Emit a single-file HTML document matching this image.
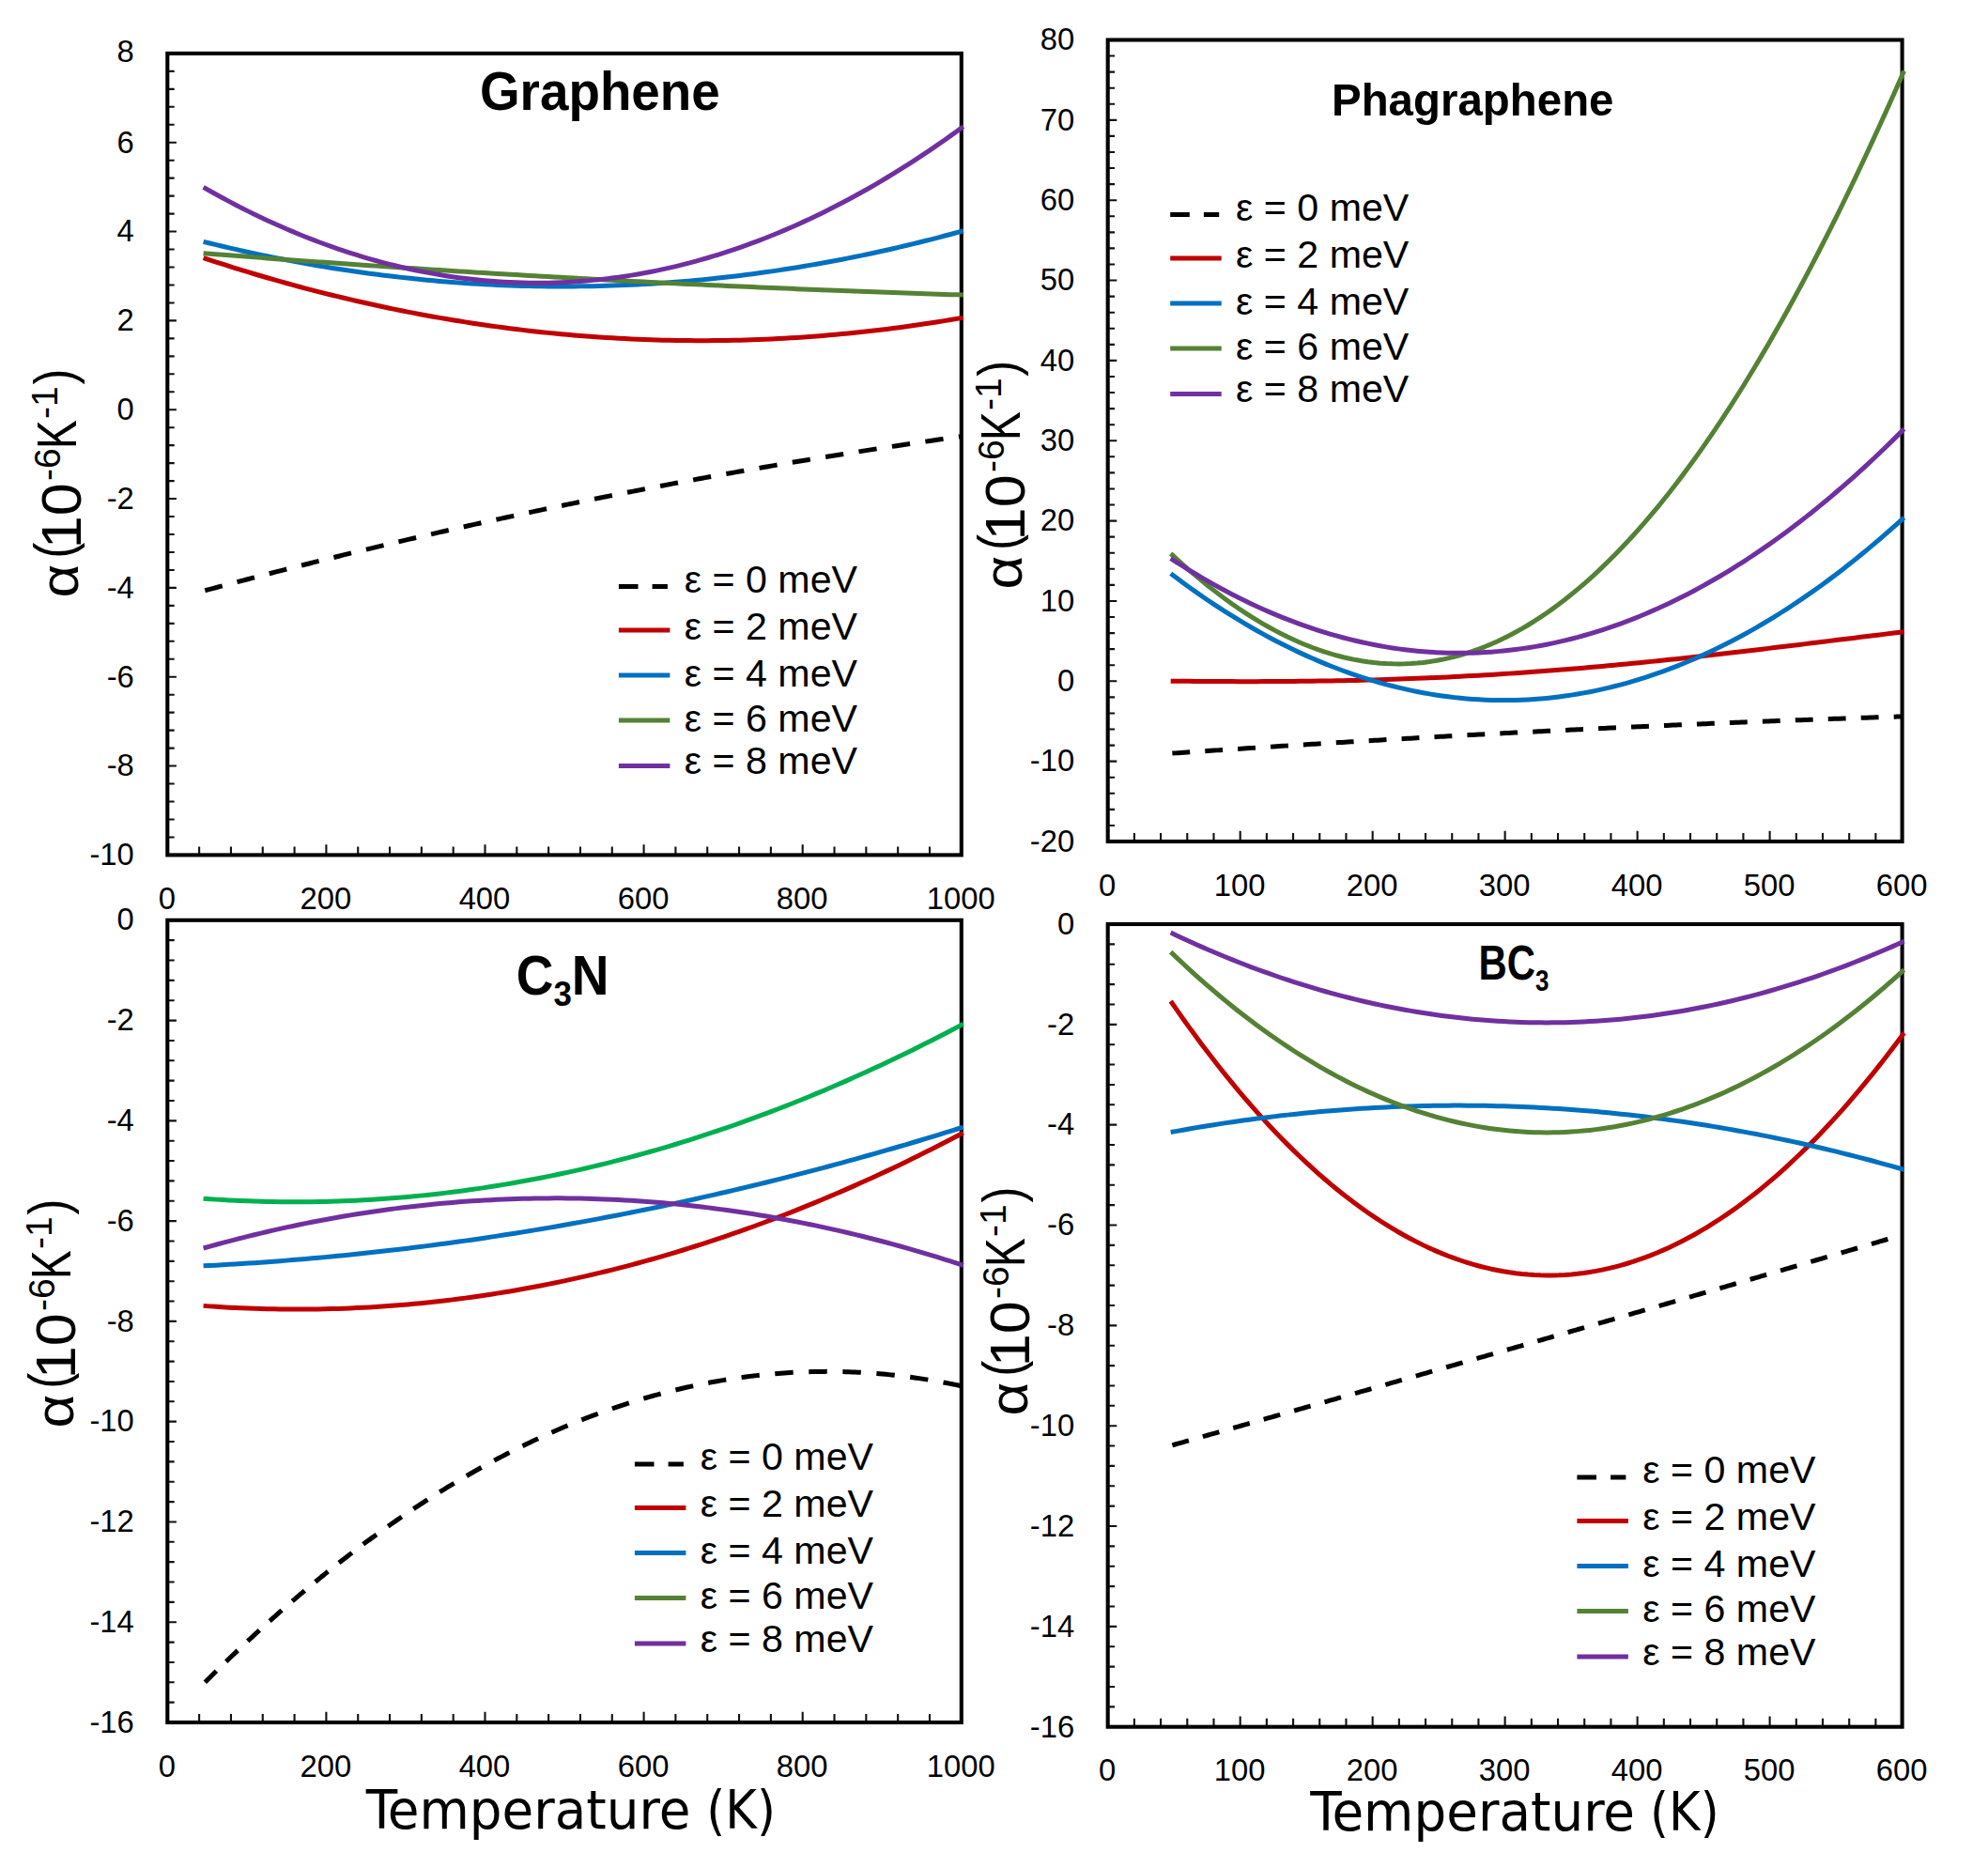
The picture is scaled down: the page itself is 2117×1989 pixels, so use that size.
<!DOCTYPE html>
<html lang="en"><head><meta charset="utf-8"><title>Thermal expansion coefficients</title>
<style>html,body{margin:0;padding:0;background:#fff}svg{display:block}text{fill:#000}.tk{font-family:'Liberation Sans', sans-serif;font-size:32.8px}.lg{font-family:'Liberation Sans', sans-serif;font-size:40px}.ttl{font-family:'Liberation Sans',sans-serif;font-weight:bold}.xt{font-family:'DejaVu Sans',sans-serif;font-stretch:condensed}.yt{font-family:'Liberation Sans',sans-serif}</style></head><body>
<svg width="2117" height="1989" viewBox="0 0 2117 1989">
<rect width="2117" height="1989" fill="#ffffff"/>
<g id="p1">
<path d="M178.3 75.87 h7.4 M178.3 94.83 h7.4 M178.3 113.8 h7.4 M178.3 132.77 h7.4 M178.3 151.73 h9.6 M178.3 170.7 h7.4 M178.3 189.67 h7.4 M178.3 208.63 h7.4 M178.3 227.6 h7.4 M178.3 246.57 h9.6 M178.3 265.53 h7.4 M178.3 284.5 h7.4 M178.3 303.47 h7.4 M178.3 322.43 h7.4 M178.3 341.4 h9.6 M178.3 360.37 h7.4 M178.3 379.33 h7.4 M178.3 398.3 h7.4 M178.3 417.27 h7.4 M178.3 436.23 h9.6 M178.3 455.2 h7.4 M178.3 474.17 h7.4 M178.3 493.13 h7.4 M178.3 512.1 h7.4 M178.3 531.07 h9.6 M178.3 550.03 h7.4 M178.3 569 h7.4 M178.3 587.97 h7.4 M178.3 606.93 h7.4 M178.3 625.9 h9.6 M178.3 644.87 h7.4 M178.3 663.83 h7.4 M178.3 682.8 h7.4 M178.3 701.77 h7.4 M178.3 720.73 h9.6 M178.3 739.7 h7.4 M178.3 758.67 h7.4 M178.3 777.63 h7.4 M178.3 796.6 h7.4 M178.3 815.57 h9.6 M178.3 834.53 h7.4 M178.3 853.5 h7.4 M178.3 872.47 h7.4 M178.3 891.43 h7.4 M212.12 910.4 v-9 M245.94 910.4 v-9 M279.76 910.4 v-9 M313.58 910.4 v-9 M347.4 910.4 v-11.2 M381.22 910.4 v-9 M415.04 910.4 v-9 M448.86 910.4 v-9 M482.68 910.4 v-9 M516.5 910.4 v-11.2 M550.32 910.4 v-9 M584.14 910.4 v-9 M617.96 910.4 v-9 M651.78 910.4 v-9 M685.6 910.4 v-11.2 M719.42 910.4 v-9 M753.24 910.4 v-9 M787.06 910.4 v-9 M820.88 910.4 v-9 M854.7 910.4 v-11.2 M888.52 910.4 v-9 M922.34 910.4 v-9 M956.16 910.4 v-9 M989.98 910.4 v-9" stroke="#111" stroke-width="2.1" fill="none"/>
<rect x="178.3" y="56.9" width="845.5" height="853.5" fill="none" stroke="#000" stroke-width="4.1"/>
<g fill="none" stroke-width="5" stroke-linejoin="round">
<path d="M218.3 628.76 L221.37 627.94 L224.45 627.12 L227.52 626.3 L230.6 625.48 L233.67 624.66 L236.75 623.84 M252.48 619.69 L255.56 618.88 L258.64 618.07 L261.72 617.26 L264.8 616.46 L267.88 615.66 L270.97 614.85 M286.73 610.78 L289.82 609.98 L292.91 609.19 L295.99 608.4 L299.08 607.61 L302.17 606.82 L305.26 606.04 M321.06 602.04 L324.15 601.26 L327.24 600.48 L330.34 599.71 L333.43 598.94 L336.52 598.16 L339.62 597.39 M355.45 593.47 L358.55 592.71 L361.65 591.95 L364.75 591.19 L367.85 590.43 L370.95 589.67 L374.05 588.92 M389.91 585.08 L393.02 584.33 L396.12 583.59 L399.23 582.84 L402.34 582.1 L405.45 581.36 L408.55 580.62 M424.45 576.86 L427.56 576.13 L430.67 575.4 L433.78 574.67 L436.9 573.94 L440.01 573.22 L443.12 572.49 M459.05 568.82 L462.17 568.1 L465.28 567.39 L468.4 566.68 L471.52 565.96 L474.64 565.25 L477.76 564.55 M493.71 560.95 L496.84 560.25 L499.96 559.55 L503.09 558.86 L506.21 558.16 L509.34 557.47 L512.46 556.78 M528.45 553.26 L531.58 552.58 L534.71 551.9 L537.84 551.22 L540.97 550.54 L544.1 549.86 L547.23 549.19 M563.25 545.75 L566.38 545.09 L569.52 544.42 L572.65 543.76 L575.79 543.1 L578.92 542.43 L582.06 541.78 M598.11 538.43 L601.25 537.78 L604.39 537.13 L607.53 536.48 L610.67 535.83 L613.81 535.19 L616.96 534.55 M633.03 531.28 L636.17 530.65 L639.32 530.02 L642.47 529.39 L645.62 528.76 L648.76 528.13 L651.91 527.5 M668.01 524.32 L671.16 523.71 L674.31 523.09 L677.47 522.47 L680.62 521.86 L683.77 521.25 L686.93 520.64 M703.05 517.55 L706.21 516.95 L709.37 516.35 L712.53 515.75 L715.68 515.15 L718.84 514.56 L722 513.97 M738.15 510.96 L741.32 510.37 L744.48 509.79 L747.64 509.21 L750.8 508.63 L753.97 508.05 L757.13 507.48 M773.31 504.56 L776.48 503.99 L779.65 503.42 L782.81 502.86 L785.98 502.3 L789.15 501.74 L792.32 501.18 M808.53 498.34 L811.7 497.79 L814.87 497.24 L818.04 496.7 L821.22 496.15 L824.39 495.61 L827.56 495.07 M843.79 492.32 L846.97 491.79 L850.15 491.25 L853.32 490.73 L856.5 490.2 L859.68 489.67 L862.86 489.15 M879.11 486.49 L882.29 485.97 L885.47 485.46 L888.66 484.94 L891.84 484.43 L895.02 483.92 L898.21 483.42 M914.48 480.85 L917.67 480.35 L920.85 479.85 L924.04 479.36 L927.23 478.86 L930.42 478.37 L933.6 477.88 M949.9 475.4 L953.09 474.92 L956.28 474.44 L959.47 473.96 L962.67 473.49 L965.86 473.01 L969.05 472.54 M985.37 470.15 L988.57 469.68 L991.76 469.22 L994.96 468.76 L998.15 468.3 L1001.35 467.85 L1004.54 467.39 M1020.89 465.09 L1021.45 465.01 L1022.02 464.93 L1022.59 464.85 L1023.16 464.77 L1023.73 464.69 L1024.3 464.61" stroke="#000000"/>
<path d="M216.6 274.58 L223.4 276.83 L230.2 279.05 L237 281.24 L243.8 283.4 L250.6 285.53 L257.4 287.63 L264.2 289.7 L271 291.74 L277.8 293.76 L284.6 295.74 L291.4 297.7 L298.2 299.63 L305 301.53 L311.8 303.39 L318.6 305.23 L325.4 307.05 L332.2 308.83 L339 310.58 L345.8 312.31 L352.6 314 L359.4 315.67 L366.2 317.3 L373 318.91 L379.8 320.49 L386.6 322.04 L393.4 323.56 L400.2 325.05 L407 326.52 L413.8 327.95 L420.6 329.36 L427.4 330.73 L434.2 332.08 L441 333.4 L447.8 334.69 L454.6 335.95 L461.4 337.18 L468.2 338.38 L475 339.55 L481.8 340.7 L488.6 341.81 L495.4 342.9 L502.2 343.95 L509 344.98 L515.8 345.98 L522.6 346.95 L529.4 347.89 L536.2 348.8 L543 349.69 L549.8 350.54 L556.6 351.36 L563.4 352.16 L570.2 352.93 L577 353.66 L583.8 354.37 L590.6 355.05 L597.4 355.7 L604.2 356.33 L611 356.92 L617.8 357.48 L624.6 358.02 L631.4 358.52 L638.2 359 L645 359.45 L651.8 359.86 L658.6 360.25 L665.4 360.61 L672.2 360.95 L679 361.25 L685.8 361.52 L692.6 361.77 L699.4 361.98 L706.2 362.17 L713 362.33 L719.8 362.45 L726.6 362.55 L733.4 362.62 L740.2 362.67 L747 362.68 L753.8 362.66 L760.6 362.62 L767.4 362.54 L774.2 362.44 L781 362.3 L787.8 362.14 L794.6 361.95 L801.4 361.73 L808.2 361.48 L815 361.21 L821.8 360.9 L828.6 360.56 L835.4 360.2 L842.2 359.8 L849 359.38 L855.8 358.93 L862.6 358.45 L869.4 357.94 L876.2 357.4 L883 356.83 L889.8 356.24 L896.6 355.61 L903.4 354.95 L910.2 354.27 L917 353.56 L923.8 352.82 L930.6 352.04 L937.4 351.24 L944.2 350.42 L951 349.56 L957.8 348.67 L964.6 347.75 L971.4 346.81 L978.2 345.84 L985 344.83 L991.8 343.8 L998.6 342.74 L1005.4 341.65 L1012.2 340.53 L1019 339.38 L1025.8 338.2" stroke="#C00000"/>
<path d="M216.6 257.34 L223.4 259.02 L230.2 260.67 L237 262.28 L243.8 263.87 L250.6 265.43 L257.4 266.96 L264.2 268.45 L271 269.92 L277.8 271.36 L284.6 272.77 L291.4 274.14 L298.2 275.49 L305 276.81 L311.8 278.1 L318.6 279.35 L325.4 280.58 L332.2 281.78 L339 282.94 L345.8 284.08 L352.6 285.19 L359.4 286.26 L366.2 287.31 L373 288.32 L379.8 289.31 L386.6 290.27 L393.4 291.19 L400.2 292.09 L407 292.95 L413.8 293.79 L420.6 294.59 L427.4 295.37 L434.2 296.11 L441 296.83 L447.8 297.51 L454.6 298.17 L461.4 298.79 L468.2 299.39 L475 299.95 L481.8 300.49 L488.6 300.99 L495.4 301.47 L502.2 301.91 L509 302.33 L515.8 302.71 L522.6 303.06 L529.4 303.39 L536.2 303.68 L543 303.95 L549.8 304.18 L556.6 304.38 L563.4 304.56 L570.2 304.7 L577 304.81 L583.8 304.9 L590.6 304.95 L597.4 304.97 L604.2 304.97 L611 304.93 L617.8 304.86 L624.6 304.77 L631.4 304.64 L638.2 304.48 L645 304.29 L651.8 304.07 L658.6 303.83 L665.4 303.55 L672.2 303.24 L679 302.9 L685.8 302.54 L692.6 302.14 L699.4 301.71 L706.2 301.25 L713 300.76 L719.8 300.24 L726.6 299.69 L733.4 299.12 L740.2 298.51 L747 297.87 L753.8 297.2 L760.6 296.5 L767.4 295.77 L774.2 295.01 L781 294.22 L787.8 293.4 L794.6 292.55 L801.4 291.67 L808.2 290.76 L815 289.82 L821.8 288.85 L828.6 287.85 L835.4 286.82 L842.2 285.76 L849 284.67 L855.8 283.55 L862.6 282.4 L869.4 281.22 L876.2 280.01 L883 278.77 L889.8 277.5 L896.6 276.2 L903.4 274.87 L910.2 273.5 L917 272.11 L923.8 270.69 L930.6 269.24 L937.4 267.76 L944.2 266.25 L951 264.71 L957.8 263.13 L964.6 261.53 L971.4 259.9 L978.2 258.24 L985 256.55 L991.8 254.82 L998.6 253.07 L1005.4 251.29 L1012.2 249.48 L1019 247.63 L1025.8 245.76" stroke="#0070C0"/>
<path d="M216.6 269.68 L223.4 270.22 L230.2 270.75 L237 271.27 L243.8 271.8 L250.6 272.32 L257.4 272.84 L264.2 273.36 L271 273.87 L277.8 274.38 L284.6 274.89 L291.4 275.4 L298.2 275.9 L305 276.4 L311.8 276.9 L318.6 277.4 L325.4 277.89 L332.2 278.38 L339 278.87 L345.8 279.35 L352.6 279.83 L359.4 280.31 L366.2 280.79 L373 281.26 L379.8 281.73 L386.6 282.2 L393.4 282.67 L400.2 283.13 L407 283.59 L413.8 284.05 L420.6 284.5 L427.4 284.95 L434.2 285.4 L441 285.85 L447.8 286.29 L454.6 286.73 L461.4 287.17 L468.2 287.61 L475 288.04 L481.8 288.47 L488.6 288.9 L495.4 289.32 L502.2 289.74 L509 290.16 L515.8 290.58 L522.6 290.99 L529.4 291.4 L536.2 291.81 L543 292.22 L549.8 292.62 L556.6 293.02 L563.4 293.42 L570.2 293.81 L577 294.2 L583.8 294.59 L590.6 294.98 L597.4 295.36 L604.2 295.74 L611 296.12 L617.8 296.5 L624.6 296.87 L631.4 297.24 L638.2 297.61 L645 297.97 L651.8 298.34 L658.6 298.69 L665.4 299.05 L672.2 299.41 L679 299.76 L685.8 300.1 L692.6 300.45 L699.4 300.79 L706.2 301.13 L713 301.47 L719.8 301.81 L726.6 302.14 L733.4 302.47 L740.2 302.79 L747 303.12 L753.8 303.44 L760.6 303.76 L767.4 304.07 L774.2 304.39 L781 304.7 L787.8 305 L794.6 305.31 L801.4 305.61 L808.2 305.91 L815 306.21 L821.8 306.5 L828.6 306.79 L835.4 307.08 L842.2 307.37 L849 307.65 L855.8 307.93 L862.6 308.21 L869.4 308.48 L876.2 308.75 L883 309.02 L889.8 309.29 L896.6 309.55 L903.4 309.82 L910.2 310.07 L917 310.33 L923.8 310.58 L930.6 310.83 L937.4 311.08 L944.2 311.33 L951 311.57 L957.8 311.81 L964.6 312.05 L971.4 312.28 L978.2 312.51 L985 312.74 L991.8 312.97 L998.6 313.19 L1005.4 313.41 L1012.2 313.63 L1019 313.84 L1025.8 314.05" stroke="#548235"/>
<path d="M216.6 199.39 L223.4 203.25 L230.2 207.04 L237 210.76 L243.8 214.39 L250.6 217.96 L257.4 221.45 L264.2 224.86 L271 228.2 L277.8 231.47 L284.6 234.66 L291.4 237.77 L298.2 240.82 L305 243.78 L311.8 246.67 L318.6 249.49 L325.4 252.23 L332.2 254.9 L339 257.5 L345.8 260.01 L352.6 262.46 L359.4 264.83 L366.2 267.12 L373 269.34 L379.8 271.49 L386.6 273.56 L393.4 275.55 L400.2 277.48 L407 279.32 L413.8 281.09 L420.6 282.79 L427.4 284.41 L434.2 285.96 L441 287.44 L447.8 288.84 L454.6 290.16 L461.4 291.41 L468.2 292.58 L475 293.68 L481.8 294.71 L488.6 295.66 L495.4 296.54 L502.2 297.34 L509 298.06 L515.8 298.72 L522.6 299.29 L529.4 299.8 L536.2 300.22 L543 300.58 L549.8 300.86 L556.6 301.06 L563.4 301.19 L570.2 301.24 L577 301.22 L583.8 301.13 L590.6 300.96 L597.4 300.72 L604.2 300.4 L611 300 L617.8 299.54 L624.6 298.99 L631.4 298.38 L638.2 297.68 L645 296.92 L651.8 296.08 L658.6 295.16 L665.4 294.17 L672.2 293.11 L679 291.97 L685.8 290.75 L692.6 289.46 L699.4 288.1 L706.2 286.66 L713 285.15 L719.8 283.56 L726.6 281.9 L733.4 280.16 L740.2 278.35 L747 276.46 L753.8 274.5 L760.6 272.46 L767.4 270.35 L774.2 268.17 L781 265.91 L787.8 263.57 L794.6 261.16 L801.4 258.68 L808.2 256.12 L815 253.49 L821.8 250.78 L828.6 248 L835.4 245.14 L842.2 242.21 L849 239.2 L855.8 236.12 L862.6 232.97 L869.4 229.73 L876.2 226.43 L883 223.05 L889.8 219.6 L896.6 216.07 L903.4 212.46 L910.2 208.78 L917 205.03 L923.8 201.2 L930.6 197.3 L937.4 193.32 L944.2 189.27 L951 185.14 L957.8 180.94 L964.6 176.67 L971.4 172.32 L978.2 167.89 L985 163.39 L991.8 158.82 L998.6 154.17 L1005.4 149.44 L1012.2 144.65 L1019 139.77 L1025.8 134.83" stroke="#7030A0"/>
</g>
<text class="tk" text-anchor="end" x="142.8" y="65.9">8</text>
<text class="tk" text-anchor="end" x="142.8" y="162.53">6</text>
<text class="tk" text-anchor="end" x="142.8" y="257.37">4</text>
<text class="tk" text-anchor="end" x="142.8" y="352.2">2</text>
<text class="tk" text-anchor="end" x="142.8" y="447.03">0</text>
<text class="tk" text-anchor="end" x="142.8" y="541.87">-2</text>
<text class="tk" text-anchor="end" x="142.8" y="636.7">-4</text>
<text class="tk" text-anchor="end" x="142.8" y="731.53">-6</text>
<text class="tk" text-anchor="end" x="142.8" y="826.37">-8</text>
<text class="tk" text-anchor="end" x="142.8" y="921.2">-10</text>
<text class="tk" text-anchor="middle" x="177.8" y="967.9">0</text>
<text class="tk" text-anchor="middle" x="346.9" y="967.9">200</text>
<text class="tk" text-anchor="middle" x="516" y="967.9">400</text>
<text class="tk" text-anchor="middle" x="685.1" y="967.9">600</text>
<text class="tk" text-anchor="middle" x="854.2" y="967.9">800</text>
<text class="tk" text-anchor="middle" x="1023.3" y="967.9">1000</text>
<path d="M658.9 624.5 h20.6 m15.1 0 h16.3" stroke="#000" stroke-width="5" fill="none"/>
<text class="lg" transform="translate(728.7 630.7) scale(1.03 1)">ε = 0 meV</text>
<path d="M658.9 671 H713.4" stroke="#C00000" stroke-width="5" fill="none"/>
<text class="lg" transform="translate(728.7 680.8) scale(1.03 1)">ε = 2 meV</text>
<path d="M658.9 718.9 H713.4" stroke="#0070C0" stroke-width="5" fill="none"/>
<text class="lg" transform="translate(728.7 730.7) scale(1.03 1)">ε = 4 meV</text>
<path d="M658.9 766.9 H713.4" stroke="#548235" stroke-width="5" fill="none"/>
<text class="lg" transform="translate(728.7 778.6) scale(1.03 1)">ε = 6 meV</text>
<path d="M658.9 815.5 H713.4" stroke="#7030A0" stroke-width="5" fill="none"/>
<text class="lg" transform="translate(728.7 824.3) scale(1.03 1)">ε = 8 meV</text>
<text class="yt" transform="translate(85.8 633.4) rotate(-90)"><tspan x="-3" y="-2.4" font-size="58" textLength="35.88" lengthAdjust="spacingAndGlyphs">α</tspan><tspan x="38.6" y="-7.9" font-size="60" textLength="16.98" lengthAdjust="spacingAndGlyphs">(</tspan><tspan x="49.2" y="0" font-size="60" textLength="70.09" lengthAdjust="spacingAndGlyphs">10</tspan><tspan x="121.5" y="-21.7" font-size="39">-6</tspan><tspan x="155.5" y="-4.8" font-size="59" textLength="30.7" lengthAdjust="spacingAndGlyphs">K</tspan><tspan x="187.5" y="-24.9" font-size="39">-1</tspan><tspan x="223.8" y="-7.9" font-size="60" textLength="16.98" lengthAdjust="spacingAndGlyphs">)</tspan></text>
</g>
<g id="p2">
<path d="M1179.7 59.57 h7.4 M1179.7 76.64 h7.4 M1179.7 93.71 h7.4 M1179.7 110.78 h7.4 M1179.7 127.85 h9.6 M1179.7 144.92 h7.4 M1179.7 161.99 h7.4 M1179.7 179.06 h7.4 M1179.7 196.13 h7.4 M1179.7 213.2 h9.6 M1179.7 230.27 h7.4 M1179.7 247.34 h7.4 M1179.7 264.41 h7.4 M1179.7 281.48 h7.4 M1179.7 298.55 h9.6 M1179.7 315.62 h7.4 M1179.7 332.69 h7.4 M1179.7 349.76 h7.4 M1179.7 366.83 h7.4 M1179.7 383.9 h9.6 M1179.7 400.97 h7.4 M1179.7 418.04 h7.4 M1179.7 435.11 h7.4 M1179.7 452.18 h7.4 M1179.7 469.25 h9.6 M1179.7 486.32 h7.4 M1179.7 503.39 h7.4 M1179.7 520.46 h7.4 M1179.7 537.53 h7.4 M1179.7 554.6 h9.6 M1179.7 571.67 h7.4 M1179.7 588.74 h7.4 M1179.7 605.81 h7.4 M1179.7 622.88 h7.4 M1179.7 639.95 h9.6 M1179.7 657.02 h7.4 M1179.7 674.09 h7.4 M1179.7 691.16 h7.4 M1179.7 708.23 h7.4 M1179.7 725.3 h9.6 M1179.7 742.37 h7.4 M1179.7 759.44 h7.4 M1179.7 776.51 h7.4 M1179.7 793.58 h7.4 M1179.7 810.65 h9.6 M1179.7 827.72 h7.4 M1179.7 844.79 h7.4 M1179.7 861.86 h7.4 M1179.7 878.93 h7.4 M1207.9 896 v-9 M1236.09 896 v-9 M1264.29 896 v-9 M1292.49 896 v-9 M1320.68 896 v-11.2 M1348.88 896 v-9 M1377.08 896 v-9 M1405.27 896 v-9 M1433.47 896 v-9 M1461.67 896 v-11.2 M1489.86 896 v-9 M1518.06 896 v-9 M1546.26 896 v-9 M1574.45 896 v-9 M1602.65 896 v-11.2 M1630.85 896 v-9 M1659.04 896 v-9 M1687.24 896 v-9 M1715.44 896 v-9 M1743.63 896 v-11.2 M1771.83 896 v-9 M1800.03 896 v-9 M1828.22 896 v-9 M1856.42 896 v-9 M1884.62 896 v-11.2 M1912.81 896 v-9 M1941.01 896 v-9 M1969.21 896 v-9 M1997.4 896 v-9" stroke="#111" stroke-width="2.1" fill="none"/>
<rect x="1179.7" y="42.5" width="845.9" height="853.5" fill="none" stroke="#000" stroke-width="4.1"/>
<g fill="none" stroke-width="5" stroke-linejoin="round">
<path d="M1248.37 802.09 L1251.5 801.87 L1254.64 801.66 L1257.78 801.44 L1260.92 801.23 L1264.06 801.01 L1267.19 800.8 M1283.23 799.71 L1286.37 799.5 L1289.51 799.29 L1292.65 799.08 L1295.79 798.87 L1298.93 798.66 L1302.07 798.45 M1318.11 797.39 L1321.25 797.19 L1324.39 796.98 L1327.53 796.78 L1330.66 796.57 L1333.8 796.37 L1336.94 796.17 M1352.99 795.13 L1356.13 794.93 L1359.27 794.73 L1362.41 794.53 L1365.55 794.33 L1368.69 794.13 L1371.83 793.94 M1387.87 792.93 L1391.02 792.73 L1394.16 792.54 L1397.3 792.34 L1400.44 792.15 L1403.58 791.96 L1406.72 791.76 M1422.77 790.78 L1425.91 790.59 L1429.05 790.4 L1432.19 790.22 L1435.33 790.03 L1438.47 789.84 L1441.61 789.65 M1457.67 788.7 L1460.81 788.51 L1463.95 788.33 L1467.09 788.14 L1470.23 787.96 L1473.37 787.78 L1476.51 787.6 M1492.57 786.67 L1495.71 786.49 L1498.85 786.31 L1501.99 786.13 L1505.14 785.95 L1508.28 785.77 L1511.42 785.6 M1527.48 784.7 L1530.62 784.52 L1533.76 784.35 L1536.9 784.18 L1540.05 784 L1543.19 783.83 L1546.33 783.66 M1562.39 782.79 L1565.53 782.62 L1568.68 782.45 L1571.82 782.28 L1574.96 782.11 L1578.1 781.94 L1581.25 781.78 M1597.31 780.93 L1600.45 780.77 L1603.6 780.6 L1606.74 780.44 L1609.88 780.28 L1613.03 780.11 L1616.17 779.95 M1632.24 779.13 L1635.38 778.98 L1638.52 778.82 L1641.67 778.66 L1644.81 778.5 L1647.95 778.34 L1651.1 778.19 M1667.16 777.4 L1670.31 777.24 L1673.45 777.09 L1676.6 776.94 L1679.74 776.78 L1682.88 776.63 L1686.03 776.48 M1702.1 775.72 L1705.24 775.57 L1708.39 775.42 L1711.53 775.27 L1714.68 775.12 L1717.82 774.98 L1720.96 774.83 M1737.04 774.09 L1740.18 773.95 L1743.33 773.81 L1746.47 773.67 L1749.62 773.52 L1752.76 773.38 L1755.91 773.24 M1771.98 772.53 L1775.12 772.39 L1778.27 772.25 L1781.41 772.12 L1784.56 771.98 L1787.71 771.85 L1790.85 771.71 M1806.93 771.02 L1810.07 770.89 L1813.22 770.76 L1816.36 770.63 L1819.51 770.5 L1822.65 770.37 L1825.8 770.24 M1841.88 769.58 L1845.02 769.45 L1848.17 769.32 L1851.31 769.2 L1854.46 769.07 L1857.61 768.95 L1860.75 768.82 M1876.83 768.19 L1879.98 768.07 L1883.12 767.95 L1886.27 767.82 L1889.42 767.7 L1892.56 767.58 L1895.71 767.46 M1911.79 766.86 L1914.94 766.74 L1918.08 766.63 L1921.23 766.51 L1924.38 766.39 L1927.52 766.28 L1930.67 766.16 M1946.75 765.59 L1949.9 765.48 L1953.05 765.36 L1956.19 765.25 L1959.34 765.14 L1962.49 765.03 L1965.63 764.92 M1981.72 764.37 L1984.87 764.27 L1988.01 764.16 L1991.16 764.06 L1994.31 763.95 L1997.45 763.85 L2000.6 763.74 M2016.69 763.22 L2018.26 763.17 L2019.82 763.12 L2021.39 763.07 L2022.96 763.02 L2024.53 762.97 L2026.1 762.92" stroke="#000000"/>
<path d="M1246.67 725.2 L1253.23 725.26 L1259.79 725.32 L1266.35 725.37 L1272.92 725.42 L1279.48 725.47 L1286.04 725.51 L1292.6 725.55 L1299.17 725.58 L1305.73 725.6 L1312.29 725.62 L1318.85 725.64 L1325.42 725.64 L1331.98 725.64 L1338.54 725.63 L1345.1 725.62 L1351.67 725.6 L1358.23 725.57 L1364.79 725.53 L1371.35 725.48 L1377.92 725.43 L1384.48 725.37 L1391.04 725.29 L1397.6 725.21 L1404.17 725.12 L1410.73 725.02 L1417.29 724.92 L1423.85 724.8 L1430.42 724.67 L1436.98 724.53 L1443.54 724.38 L1450.1 724.22 L1456.67 724.06 L1463.23 723.88 L1469.79 723.69 L1476.35 723.49 L1482.92 723.28 L1489.48 723.05 L1496.04 722.82 L1502.6 722.58 L1509.17 722.32 L1515.73 722.06 L1522.29 721.78 L1528.85 721.49 L1535.42 721.19 L1541.98 720.88 L1548.54 720.55 L1555.1 720.22 L1561.67 719.87 L1568.23 719.52 L1574.79 719.15 L1581.35 718.77 L1587.92 718.38 L1594.48 717.97 L1601.04 717.56 L1607.6 717.13 L1614.16 716.7 L1620.73 716.25 L1627.29 715.79 L1633.85 715.32 L1640.41 714.84 L1646.98 714.34 L1653.54 713.84 L1660.1 713.33 L1666.66 712.8 L1673.23 712.26 L1679.79 711.72 L1686.35 711.16 L1692.91 710.59 L1699.48 710.02 L1706.04 709.43 L1712.6 708.83 L1719.16 708.22 L1725.73 707.6 L1732.29 706.98 L1738.85 706.34 L1745.41 705.7 L1751.98 705.04 L1758.54 704.38 L1765.1 703.71 L1771.66 703.03 L1778.23 702.34 L1784.79 701.64 L1791.35 700.94 L1797.91 700.22 L1804.48 699.5 L1811.04 698.78 L1817.6 698.04 L1824.16 697.3 L1830.73 696.56 L1837.29 695.81 L1843.85 695.05 L1850.41 694.28 L1856.98 693.52 L1863.54 692.74 L1870.1 691.96 L1876.66 691.18 L1883.23 690.39 L1889.79 689.6 L1896.35 688.81 L1902.91 688.01 L1909.48 687.21 L1916.04 686.41 L1922.6 685.61 L1929.16 684.8 L1935.73 683.99 L1942.29 683.19 L1948.85 682.38 L1955.41 681.57 L1961.98 680.76 L1968.54 679.95 L1975.1 679.15 L1981.66 678.34 L1988.23 677.54 L1994.79 676.74 L2001.35 675.94 L2007.91 675.14 L2014.48 674.35 L2021.04 673.57 L2027.6 672.78" stroke="#C00000"/>
<path d="M1246.67 610.68 L1253.23 615.62 L1259.79 620.48 L1266.35 625.24 L1272.92 629.9 L1279.48 634.48 L1286.04 638.96 L1292.6 643.35 L1299.17 647.65 L1305.73 651.86 L1312.29 655.97 L1318.85 659.99 L1325.42 663.92 L1331.98 667.76 L1338.54 671.5 L1345.1 675.16 L1351.67 678.72 L1358.23 682.19 L1364.79 685.56 L1371.35 688.84 L1377.92 692.04 L1384.48 695.13 L1391.04 698.14 L1397.6 701.05 L1404.17 703.88 L1410.73 706.61 L1417.29 709.24 L1423.85 711.79 L1430.42 714.24 L1436.98 716.6 L1443.54 718.87 L1450.1 721.05 L1456.67 723.13 L1463.23 725.12 L1469.79 727.02 L1476.35 728.83 L1482.92 730.54 L1489.48 732.16 L1496.04 733.69 L1502.6 735.13 L1509.17 736.48 L1515.73 737.73 L1522.29 738.89 L1528.85 739.96 L1535.42 740.93 L1541.98 741.82 L1548.54 742.61 L1555.1 743.31 L1561.67 743.92 L1568.23 744.43 L1574.79 744.85 L1581.35 745.18 L1587.92 745.42 L1594.48 745.57 L1601.04 745.62 L1607.6 745.58 L1614.16 745.45 L1620.73 745.23 L1627.29 744.91 L1633.85 744.5 L1640.41 744 L1646.98 743.41 L1653.54 742.72 L1660.1 741.95 L1666.66 741.08 L1673.23 740.12 L1679.79 739.06 L1686.35 737.91 L1692.91 736.68 L1699.48 735.34 L1706.04 733.92 L1712.6 732.41 L1719.16 730.8 L1725.73 729.1 L1732.29 727.31 L1738.85 725.42 L1745.41 723.44 L1751.98 721.37 L1758.54 719.21 L1765.1 716.96 L1771.66 714.61 L1778.23 712.17 L1784.79 709.64 L1791.35 707.02 L1797.91 704.3 L1804.48 701.5 L1811.04 698.6 L1817.6 695.6 L1824.16 692.52 L1830.73 689.34 L1837.29 686.07 L1843.85 682.71 L1850.41 679.26 L1856.98 675.71 L1863.54 672.08 L1870.1 668.34 L1876.66 664.52 L1883.23 660.61 L1889.79 656.6 L1896.35 652.5 L1902.91 648.31 L1909.48 644.02 L1916.04 639.65 L1922.6 635.18 L1929.16 630.62 L1935.73 625.96 L1942.29 621.22 L1948.85 616.38 L1955.41 611.45 L1961.98 606.43 L1968.54 601.31 L1975.1 596.1 L1981.66 590.81 L1988.23 585.41 L1994.79 579.93 L2001.35 574.35 L2007.91 568.68 L2014.48 562.92 L2021.04 557.07 L2027.6 551.13" stroke="#0070C0"/>
<path d="M1246.67 589.32 L1253.23 595.38 L1259.79 601.29 L1266.35 607.05 L1272.92 612.67 L1279.48 618.14 L1286.04 623.45 L1292.6 628.62 L1299.17 633.63 L1305.73 638.48 L1312.29 643.18 L1318.85 647.72 L1325.42 652.11 L1331.98 656.33 L1338.54 660.39 L1345.1 664.29 L1351.67 668.03 L1358.23 671.6 L1364.79 675.01 L1371.35 678.24 L1377.92 681.32 L1384.48 684.22 L1391.04 686.95 L1397.6 689.51 L1404.17 691.9 L1410.73 694.12 L1417.29 696.16 L1423.85 698.03 L1430.42 699.73 L1436.98 701.24 L1443.54 702.58 L1450.1 703.74 L1456.67 704.73 L1463.23 705.53 L1469.79 706.15 L1476.35 706.6 L1482.92 706.86 L1489.48 706.93 L1496.04 706.83 L1502.6 706.54 L1509.17 706.07 L1515.73 705.41 L1522.29 704.57 L1528.85 703.54 L1535.42 702.32 L1541.98 700.92 L1548.54 699.33 L1555.1 697.55 L1561.67 695.58 L1568.23 693.43 L1574.79 691.08 L1581.35 688.55 L1587.92 685.83 L1594.48 682.91 L1601.04 679.81 L1607.6 676.52 L1614.16 673.03 L1620.73 669.36 L1627.29 665.49 L1633.85 661.43 L1640.41 657.18 L1646.98 652.74 L1653.54 648.11 L1660.1 643.28 L1666.66 638.27 L1673.23 633.06 L1679.79 627.66 L1686.35 622.07 L1692.91 616.28 L1699.48 610.31 L1706.04 604.14 L1712.6 597.78 L1719.16 591.23 L1725.73 584.49 L1732.29 577.56 L1738.85 570.44 L1745.41 563.12 L1751.98 555.62 L1758.54 547.93 L1765.1 540.04 L1771.66 531.97 L1778.23 523.71 L1784.79 515.26 L1791.35 506.62 L1797.91 497.79 L1804.48 488.78 L1811.04 479.58 L1817.6 470.19 L1824.16 460.62 L1830.73 450.86 L1837.29 440.92 L1843.85 430.79 L1850.41 420.48 L1856.98 409.98 L1863.54 399.3 L1870.1 388.44 L1876.66 377.4 L1883.23 366.18 L1889.79 354.78 L1896.35 343.2 L1902.91 331.45 L1909.48 319.51 L1916.04 307.4 L1922.6 295.12 L1929.16 282.65 L1935.73 270.02 L1942.29 257.21 L1948.85 244.23 L1955.41 231.08 L1961.98 217.76 L1968.54 204.27 L1975.1 190.62 L1981.66 176.79 L1988.23 162.8 L1994.79 148.65 L2001.35 134.33 L2007.91 119.85 L2014.48 105.21 L2021.04 90.41 L2027.6 75.45" stroke="#548235"/>
<path d="M1246.67 594.53 L1253.23 598.78 L1259.79 602.95 L1266.35 607.02 L1272.92 611 L1279.48 614.89 L1286.04 618.68 L1292.6 622.39 L1299.17 626 L1305.73 629.52 L1312.29 632.95 L1318.85 636.29 L1325.42 639.53 L1331.98 642.69 L1338.54 645.75 L1345.1 648.72 L1351.67 651.6 L1358.23 654.38 L1364.79 657.08 L1371.35 659.68 L1377.92 662.19 L1384.48 664.61 L1391.04 666.94 L1397.6 669.18 L1404.17 671.32 L1410.73 673.38 L1417.29 675.34 L1423.85 677.21 L1430.42 678.99 L1436.98 680.67 L1443.54 682.27 L1450.1 683.77 L1456.67 685.18 L1463.23 686.5 L1469.79 687.73 L1476.35 688.86 L1482.92 689.91 L1489.48 690.86 L1496.04 691.72 L1502.6 692.49 L1509.17 693.16 L1515.73 693.75 L1522.29 694.24 L1528.85 694.65 L1535.42 694.96 L1541.98 695.17 L1548.54 695.3 L1555.1 695.34 L1561.67 695.28 L1568.23 695.13 L1574.79 694.89 L1581.35 694.56 L1587.92 694.14 L1594.48 693.62 L1601.04 693.01 L1607.6 692.31 L1614.16 691.52 L1620.73 690.64 L1627.29 689.67 L1633.85 688.6 L1640.41 687.44 L1646.98 686.2 L1653.54 684.85 L1660.1 683.42 L1666.66 681.9 L1673.23 680.28 L1679.79 678.57 L1686.35 676.77 L1692.91 674.88 L1699.48 672.9 L1706.04 670.82 L1712.6 668.66 L1719.16 666.4 L1725.73 664.05 L1732.29 661.61 L1738.85 659.08 L1745.41 656.45 L1751.98 653.73 L1758.54 650.92 L1765.1 648.02 L1771.66 645.03 L1778.23 641.95 L1784.79 638.77 L1791.35 635.51 L1797.91 632.15 L1804.48 628.7 L1811.04 625.15 L1817.6 621.52 L1824.16 617.79 L1830.73 613.98 L1837.29 610.07 L1843.85 606.07 L1850.41 601.97 L1856.98 597.79 L1863.54 593.51 L1870.1 589.14 L1876.66 584.68 L1883.23 580.13 L1889.79 575.49 L1896.35 570.75 L1902.91 565.93 L1909.48 561.01 L1916.04 556 L1922.6 550.9 L1929.16 545.7 L1935.73 540.42 L1942.29 535.04 L1948.85 529.57 L1955.41 524.01 L1961.98 518.36 L1968.54 512.62 L1975.1 506.78 L1981.66 500.85 L1988.23 494.83 L1994.79 488.72 L2001.35 482.52 L2007.91 476.23 L2014.48 469.84 L2021.04 463.36 L2027.6 456.79" stroke="#7030A0"/>
</g>
<text class="tk" text-anchor="end" x="1144.2" y="53.3">80</text>
<text class="tk" text-anchor="end" x="1144.2" y="138.65">70</text>
<text class="tk" text-anchor="end" x="1144.2" y="224">60</text>
<text class="tk" text-anchor="end" x="1144.2" y="309.35">50</text>
<text class="tk" text-anchor="end" x="1144.2" y="394.7">40</text>
<text class="tk" text-anchor="end" x="1144.2" y="480.05">30</text>
<text class="tk" text-anchor="end" x="1144.2" y="565.4">20</text>
<text class="tk" text-anchor="end" x="1144.2" y="650.75">10</text>
<text class="tk" text-anchor="end" x="1144.2" y="736.1">0</text>
<text class="tk" text-anchor="end" x="1144.2" y="821.45">-10</text>
<text class="tk" text-anchor="end" x="1144.2" y="906.8">-20</text>
<text class="tk" text-anchor="middle" x="1179.2" y="953.5">0</text>
<text class="tk" text-anchor="middle" x="1320.18" y="953.5">100</text>
<text class="tk" text-anchor="middle" x="1461.17" y="953.5">200</text>
<text class="tk" text-anchor="middle" x="1602.15" y="953.5">300</text>
<text class="tk" text-anchor="middle" x="1743.13" y="953.5">400</text>
<text class="tk" text-anchor="middle" x="1884.12" y="953.5">500</text>
<text class="tk" text-anchor="middle" x="2025.1" y="953.5">600</text>
<path d="M1246.2 228.5 h20.6 m15.1 0 h16.3" stroke="#000" stroke-width="5" fill="none"/>
<text class="lg" transform="translate(1316 234.7) scale(1.03 1)">ε = 0 meV</text>
<path d="M1246.2 275 H1300.7" stroke="#C00000" stroke-width="5" fill="none"/>
<text class="lg" transform="translate(1316 284.8) scale(1.03 1)">ε = 2 meV</text>
<path d="M1246.2 322.9 H1300.7" stroke="#0070C0" stroke-width="5" fill="none"/>
<text class="lg" transform="translate(1316 334.7) scale(1.03 1)">ε = 4 meV</text>
<path d="M1246.2 370.9 H1300.7" stroke="#548235" stroke-width="5" fill="none"/>
<text class="lg" transform="translate(1316 382.6) scale(1.03 1)">ε = 6 meV</text>
<path d="M1246.2 419.5 H1300.7" stroke="#7030A0" stroke-width="5" fill="none"/>
<text class="lg" transform="translate(1316 428.3) scale(1.03 1)">ε = 8 meV</text>
<text class="yt" transform="translate(1090.5 624.6) rotate(-90)"><tspan x="-3" y="-2.4" font-size="58" textLength="35.88" lengthAdjust="spacingAndGlyphs">α</tspan><tspan x="38.6" y="-7.9" font-size="60" textLength="16.98" lengthAdjust="spacingAndGlyphs">(</tspan><tspan x="49.2" y="0" font-size="60" textLength="70.09" lengthAdjust="spacingAndGlyphs">10</tspan><tspan x="121.5" y="-21.7" font-size="39">-6</tspan><tspan x="155.5" y="-4.8" font-size="59" textLength="30.7" lengthAdjust="spacingAndGlyphs">K</tspan><tspan x="187.5" y="-24.9" font-size="39">-1</tspan><tspan x="223.8" y="-7.9" font-size="60" textLength="16.98" lengthAdjust="spacingAndGlyphs">)</tspan></text>
</g>
<g id="p3">
<path d="M178.3 1001.15 h7.4 M178.3 1022.51 h7.4 M178.3 1043.87 h7.4 M178.3 1065.22 h7.4 M178.3 1086.58 h9.6 M178.3 1107.93 h7.4 M178.3 1129.28 h7.4 M178.3 1150.64 h7.4 M178.3 1171.99 h7.4 M178.3 1193.35 h9.6 M178.3 1214.7 h7.4 M178.3 1236.06 h7.4 M178.3 1257.41 h7.4 M178.3 1278.77 h7.4 M178.3 1300.12 h9.6 M178.3 1321.48 h7.4 M178.3 1342.84 h7.4 M178.3 1364.19 h7.4 M178.3 1385.55 h7.4 M178.3 1406.9 h9.6 M178.3 1428.26 h7.4 M178.3 1449.61 h7.4 M178.3 1470.97 h7.4 M178.3 1492.32 h7.4 M178.3 1513.67 h9.6 M178.3 1535.03 h7.4 M178.3 1556.38 h7.4 M178.3 1577.74 h7.4 M178.3 1599.1 h7.4 M178.3 1620.45 h9.6 M178.3 1641.81 h7.4 M178.3 1663.16 h7.4 M178.3 1684.52 h7.4 M178.3 1705.87 h7.4 M178.3 1727.22 h9.6 M178.3 1748.58 h7.4 M178.3 1769.93 h7.4 M178.3 1791.29 h7.4 M178.3 1812.64 h7.4 M212.12 1834 v-9 M245.94 1834 v-9 M279.76 1834 v-9 M313.58 1834 v-9 M347.4 1834 v-11.2 M381.22 1834 v-9 M415.04 1834 v-9 M448.86 1834 v-9 M482.68 1834 v-9 M516.5 1834 v-11.2 M550.32 1834 v-9 M584.14 1834 v-9 M617.96 1834 v-9 M651.78 1834 v-9 M685.6 1834 v-11.2 M719.42 1834 v-9 M753.24 1834 v-9 M787.06 1834 v-9 M820.88 1834 v-9 M854.7 1834 v-11.2 M888.52 1834 v-9 M922.34 1834 v-9 M956.16 1834 v-9 M989.98 1834 v-9" stroke="#111" stroke-width="2.1" fill="none"/>
<rect x="178.3" y="979.8" width="845.5" height="854.2" fill="none" stroke="#000" stroke-width="4.1"/>
<g fill="none" stroke-width="5" stroke-linejoin="round">
<path d="M218.3 1791.27 L220.3 1789.28 L222.31 1787.28 L224.32 1785.29 L226.34 1783.29 L228.35 1781.3 L230.38 1779.32 M240.77 1769.2 L242.82 1767.23 L244.87 1765.26 L246.92 1763.29 L248.98 1761.33 L251.04 1759.37 L253.11 1757.41 M263.73 1747.44 L265.82 1745.49 L267.92 1743.55 L270.02 1741.62 L272.12 1739.68 L274.23 1737.75 L276.34 1735.82 M287.2 1726.01 L289.34 1724.1 L291.48 1722.19 L293.63 1720.29 L295.78 1718.38 L297.94 1716.48 L300.1 1714.59 M311.21 1704.95 L313.4 1703.07 L315.59 1701.2 L317.79 1699.33 L319.99 1697.46 L322.2 1695.6 L324.41 1693.74 M335.79 1684.29 L338.03 1682.45 L340.28 1680.62 L342.53 1678.79 L344.78 1676.96 L347.04 1675.14 L349.31 1673.32 M360.96 1664.08 L363.26 1662.28 L365.56 1660.49 L367.87 1658.7 L370.18 1656.92 L372.5 1655.14 L374.82 1653.36 M386.77 1644.35 L389.12 1642.61 L391.48 1640.86 L393.84 1639.12 L396.21 1637.38 L398.59 1635.65 L400.97 1633.92 M413.22 1625.17 L415.64 1623.47 L418.06 1621.78 L420.49 1620.09 L422.92 1618.41 L425.35 1616.73 L427.8 1615.05 M440.37 1606.58 L442.85 1604.94 L445.34 1603.3 L447.83 1601.67 L450.32 1600.05 L452.82 1598.43 L455.33 1596.82 M468.24 1588.66 L470.79 1587.08 L473.34 1585.51 L475.9 1583.94 L478.46 1582.38 L481.03 1580.83 L483.6 1579.28 M496.86 1571.47 L499.48 1569.96 L502.1 1568.46 L504.72 1566.97 L507.36 1565.48 L509.99 1564 L512.64 1562.52 M526.26 1555.1 L528.94 1553.67 L531.64 1552.25 L534.33 1550.84 L537.04 1549.43 L539.75 1548.03 L542.46 1546.64 M556.45 1539.65 L559.21 1538.31 L561.98 1536.97 L564.75 1535.65 L567.52 1534.33 L570.31 1533.02 L573.1 1531.72 M587.46 1525.21 L590.29 1523.96 L593.13 1522.73 L595.97 1521.5 L598.82 1520.28 L601.68 1519.07 L604.54 1517.87 M619.28 1511.9 L622.19 1510.76 L625.1 1509.63 L628.01 1508.51 L630.94 1507.41 L633.87 1506.31 L636.8 1505.22 M651.91 1499.84 L654.89 1498.82 L657.87 1497.81 L660.86 1496.81 L663.85 1495.83 L666.85 1494.85 L669.86 1493.89 M685.32 1489.15 L688.36 1488.26 L691.41 1487.39 L694.46 1486.52 L697.52 1485.67 L700.59 1484.83 L703.66 1484 M719.44 1479.97 L722.55 1479.23 L725.66 1478.49 L728.77 1477.77 L731.89 1477.06 L735.02 1476.37 L738.15 1475.69 M754.22 1472.43 L757.38 1471.83 L760.54 1471.25 L763.71 1470.69 L766.88 1470.14 L770.06 1469.6 L773.24 1469.08 M789.55 1466.63 L792.75 1466.2 L795.95 1465.78 L799.16 1465.38 L802.37 1464.99 L805.58 1464.62 L808.8 1464.27 M825.28 1462.69 L828.51 1462.42 L831.75 1462.18 L834.98 1461.95 L838.22 1461.73 L841.46 1461.53 L844.7 1461.35 M861.28 1460.66 L864.53 1460.57 L867.78 1460.5 L871.03 1460.44 L874.27 1460.4 L877.52 1460.38 L880.77 1460.37 M897.37 1460.58 L900.62 1460.67 L903.87 1460.78 L907.11 1460.9 L910.36 1461.04 L913.6 1461.19 L916.84 1461.36 M933.39 1462.47 L936.62 1462.74 L939.85 1463.02 L943.07 1463.31 L946.3 1463.62 L949.52 1463.95 L952.74 1464.29 M969.15 1466.28 L972.35 1466.72 L975.55 1467.17 L978.74 1467.63 L981.93 1468.11 L985.12 1468.6 L988.3 1469.11 M1004.51 1471.94 L1007.66 1472.54 L1010.82 1473.15 L1013.97 1473.78 L1017.11 1474.42 L1020.25 1475.07 L1023.38 1475.74" stroke="#000000"/>
<path d="M216.6 1390.38 L223.4 1390.87 L230.2 1391.33 L237 1391.75 L243.8 1392.13 L250.6 1392.48 L257.4 1392.8 L264.2 1393.08 L271 1393.33 L277.8 1393.54 L284.6 1393.72 L291.4 1393.87 L298.2 1393.98 L305 1394.05 L311.8 1394.09 L318.6 1394.1 L325.4 1394.07 L332.2 1394.01 L339 1393.91 L345.8 1393.78 L352.6 1393.61 L359.4 1393.41 L366.2 1393.18 L373 1392.9 L379.8 1392.6 L386.6 1392.26 L393.4 1391.89 L400.2 1391.48 L407 1391.04 L413.8 1390.56 L420.6 1390.05 L427.4 1389.5 L434.2 1388.92 L441 1388.3 L447.8 1387.65 L454.6 1386.97 L461.4 1386.25 L468.2 1385.49 L475 1384.71 L481.8 1383.88 L488.6 1383.02 L495.4 1382.13 L502.2 1381.21 L509 1380.24 L515.8 1379.25 L522.6 1378.22 L529.4 1377.15 L536.2 1376.05 L543 1374.92 L549.8 1373.75 L556.6 1372.55 L563.4 1371.31 L570.2 1370.04 L577 1368.73 L583.8 1367.39 L590.6 1366.01 L597.4 1364.6 L604.2 1363.16 L611 1361.68 L617.8 1360.17 L624.6 1358.62 L631.4 1357.03 L638.2 1355.42 L645 1353.76 L651.8 1352.08 L658.6 1350.36 L665.4 1348.6 L672.2 1346.81 L679 1344.98 L685.8 1343.12 L692.6 1341.23 L699.4 1339.3 L706.2 1337.34 L713 1335.34 L719.8 1333.31 L726.6 1331.24 L733.4 1329.14 L740.2 1327 L747 1324.83 L753.8 1322.63 L760.6 1320.39 L767.4 1318.12 L774.2 1315.81 L781 1313.46 L787.8 1311.09 L794.6 1308.67 L801.4 1306.23 L808.2 1303.75 L815 1301.23 L821.8 1298.68 L828.6 1296.09 L835.4 1293.47 L842.2 1290.82 L849 1288.13 L855.8 1285.41 L862.6 1282.65 L869.4 1279.86 L876.2 1277.03 L883 1274.17 L889.8 1271.27 L896.6 1268.34 L903.4 1265.38 L910.2 1262.38 L917 1259.34 L923.8 1256.27 L930.6 1253.17 L937.4 1250.03 L944.2 1246.86 L951 1243.65 L957.8 1240.41 L964.6 1237.14 L971.4 1233.83 L978.2 1230.48 L985 1227.1 L991.8 1223.69 L998.6 1220.24 L1005.4 1216.75 L1012.2 1213.24 L1019 1209.68 L1025.8 1206.1" stroke="#C00000"/>
<path d="M216.6 1347.86 L223.4 1347.51 L230.2 1347.15 L237 1346.77 L243.8 1346.37 L250.6 1345.96 L257.4 1345.53 L264.2 1345.09 L271 1344.64 L277.8 1344.17 L284.6 1343.68 L291.4 1343.18 L298.2 1342.66 L305 1342.13 L311.8 1341.59 L318.6 1341.02 L325.4 1340.45 L332.2 1339.86 L339 1339.25 L345.8 1338.63 L352.6 1337.99 L359.4 1337.34 L366.2 1336.67 L373 1335.99 L379.8 1335.29 L386.6 1334.58 L393.4 1333.85 L400.2 1333.11 L407 1332.35 L413.8 1331.57 L420.6 1330.79 L427.4 1329.98 L434.2 1329.16 L441 1328.33 L447.8 1327.48 L454.6 1326.62 L461.4 1325.74 L468.2 1324.85 L475 1323.94 L481.8 1323.01 L488.6 1322.07 L495.4 1321.12 L502.2 1320.15 L509 1319.16 L515.8 1318.17 L522.6 1317.15 L529.4 1316.12 L536.2 1315.08 L543 1314.02 L549.8 1312.94 L556.6 1311.85 L563.4 1310.74 L570.2 1309.62 L577 1308.49 L583.8 1307.34 L590.6 1306.17 L597.4 1304.99 L604.2 1303.79 L611 1302.58 L617.8 1301.36 L624.6 1300.11 L631.4 1298.86 L638.2 1297.59 L645 1296.3 L651.8 1295 L658.6 1293.68 L665.4 1292.35 L672.2 1291 L679 1289.64 L685.8 1288.26 L692.6 1286.87 L699.4 1285.46 L706.2 1284.04 L713 1282.6 L719.8 1281.15 L726.6 1279.68 L733.4 1278.2 L740.2 1276.7 L747 1275.18 L753.8 1273.66 L760.6 1272.11 L767.4 1270.55 L774.2 1268.98 L781 1267.39 L787.8 1265.79 L794.6 1264.17 L801.4 1262.53 L808.2 1260.88 L815 1259.22 L821.8 1257.54 L828.6 1255.84 L835.4 1254.13 L842.2 1252.41 L849 1250.67 L855.8 1248.91 L862.6 1247.14 L869.4 1245.36 L876.2 1243.56 L883 1241.74 L889.8 1239.91 L896.6 1238.06 L903.4 1236.2 L910.2 1234.33 L917 1232.44 L923.8 1230.53 L930.6 1228.61 L937.4 1226.67 L944.2 1224.72 L951 1222.75 L957.8 1220.77 L964.6 1218.78 L971.4 1216.76 L978.2 1214.74 L985 1212.69 L991.8 1210.64 L998.6 1208.56 L1005.4 1206.48 L1012.2 1204.37 L1019 1202.26 L1025.8 1200.12" stroke="#0070C0"/>
<path d="M216.6 1276.2 L223.4 1276.69 L230.2 1277.13 L237 1277.54 L243.8 1277.92 L250.6 1278.26 L257.4 1278.57 L264.2 1278.85 L271 1279.08 L277.8 1279.29 L284.6 1279.46 L291.4 1279.59 L298.2 1279.69 L305 1279.76 L311.8 1279.79 L318.6 1279.79 L325.4 1279.75 L332.2 1279.67 L339 1279.57 L345.8 1279.42 L352.6 1279.25 L359.4 1279.04 L366.2 1278.79 L373 1278.51 L379.8 1278.19 L386.6 1277.84 L393.4 1277.46 L400.2 1277.04 L407 1276.58 L413.8 1276.1 L420.6 1275.57 L427.4 1275.01 L434.2 1274.42 L441 1273.79 L447.8 1273.13 L454.6 1272.44 L461.4 1271.7 L468.2 1270.94 L475 1270.14 L481.8 1269.3 L488.6 1268.43 L495.4 1267.53 L502.2 1266.59 L509 1265.62 L515.8 1264.61 L522.6 1263.56 L529.4 1262.49 L536.2 1261.37 L543 1260.23 L549.8 1259.04 L556.6 1257.83 L563.4 1256.58 L570.2 1255.29 L577 1253.97 L583.8 1252.62 L590.6 1251.23 L597.4 1249.8 L604.2 1248.34 L611 1246.85 L617.8 1245.32 L624.6 1243.76 L631.4 1242.16 L638.2 1240.53 L645 1238.86 L651.8 1237.16 L658.6 1235.43 L665.4 1233.66 L672.2 1231.85 L679 1230.01 L685.8 1228.14 L692.6 1226.23 L699.4 1224.28 L706.2 1222.31 L713 1220.29 L719.8 1218.25 L726.6 1216.16 L733.4 1214.05 L740.2 1211.89 L747 1209.71 L753.8 1207.49 L760.6 1205.23 L767.4 1202.94 L774.2 1200.62 L781 1198.26 L787.8 1195.86 L794.6 1193.43 L801.4 1190.97 L808.2 1188.47 L815 1185.94 L821.8 1183.37 L828.6 1180.77 L835.4 1178.13 L842.2 1175.46 L849 1172.76 L855.8 1170.02 L862.6 1167.24 L869.4 1164.43 L876.2 1161.59 L883 1158.71 L889.8 1155.79 L896.6 1152.85 L903.4 1149.86 L910.2 1146.84 L917 1143.79 L923.8 1140.71 L930.6 1137.58 L937.4 1134.43 L944.2 1131.24 L951 1128.01 L957.8 1124.75 L964.6 1121.46 L971.4 1118.13 L978.2 1114.76 L985 1111.36 L991.8 1107.93 L998.6 1104.46 L1005.4 1100.96 L1012.2 1097.42 L1019 1093.85 L1025.8 1090.24" stroke="#00B050"/>
<path d="M216.6 1329.02 L223.4 1327.11 L230.2 1325.23 L237 1323.39 L243.8 1321.58 L250.6 1319.81 L257.4 1318.07 L264.2 1316.37 L271 1314.7 L277.8 1313.07 L284.6 1311.47 L291.4 1309.91 L298.2 1308.38 L305 1306.89 L311.8 1305.44 L318.6 1304.01 L325.4 1302.63 L332.2 1301.27 L339 1299.96 L345.8 1298.68 L352.6 1297.43 L359.4 1296.22 L366.2 1295.04 L373 1293.9 L379.8 1292.79 L386.6 1291.72 L393.4 1290.68 L400.2 1289.68 L407 1288.72 L413.8 1287.78 L420.6 1286.89 L427.4 1286.03 L434.2 1285.2 L441 1284.41 L447.8 1283.65 L454.6 1282.93 L461.4 1282.24 L468.2 1281.59 L475 1280.98 L481.8 1280.39 L488.6 1279.85 L495.4 1279.34 L502.2 1278.86 L509 1278.42 L515.8 1278.01 L522.6 1277.64 L529.4 1277.31 L536.2 1277 L543 1276.74 L549.8 1276.51 L556.6 1276.31 L563.4 1276.15 L570.2 1276.02 L577 1275.93 L583.8 1275.88 L590.6 1275.86 L597.4 1275.87 L604.2 1275.92 L611 1276 L617.8 1276.12 L624.6 1276.28 L631.4 1276.47 L638.2 1276.69 L645 1276.95 L651.8 1277.24 L658.6 1277.57 L665.4 1277.94 L672.2 1278.34 L679 1278.77 L685.8 1279.24 L692.6 1279.75 L699.4 1280.29 L706.2 1280.86 L713 1281.47 L719.8 1282.11 L726.6 1282.79 L733.4 1283.51 L740.2 1284.26 L747 1285.04 L753.8 1285.86 L760.6 1286.72 L767.4 1287.61 L774.2 1288.53 L781 1289.49 L787.8 1290.49 L794.6 1291.52 L801.4 1292.58 L808.2 1293.68 L815 1294.82 L821.8 1295.99 L828.6 1297.19 L835.4 1298.43 L842.2 1299.71 L849 1301.02 L855.8 1302.36 L862.6 1303.74 L869.4 1305.16 L876.2 1306.61 L883 1308.09 L889.8 1309.61 L896.6 1311.17 L903.4 1312.76 L910.2 1314.39 L917 1316.05 L923.8 1317.74 L930.6 1319.47 L937.4 1321.24 L944.2 1323.04 L951 1324.87 L957.8 1326.74 L964.6 1328.65 L971.4 1330.59 L978.2 1332.57 L985 1334.58 L991.8 1336.62 L998.6 1338.7 L1005.4 1340.82 L1012.2 1342.97 L1019 1345.16 L1025.8 1347.38" stroke="#7030A0"/>
</g>
<text class="tk" text-anchor="end" x="142.8" y="989.8">0</text>
<text class="tk" text-anchor="end" x="142.8" y="1097.38">-2</text>
<text class="tk" text-anchor="end" x="142.8" y="1204.15">-4</text>
<text class="tk" text-anchor="end" x="142.8" y="1310.92">-6</text>
<text class="tk" text-anchor="end" x="142.8" y="1417.7">-8</text>
<text class="tk" text-anchor="end" x="142.8" y="1524.47">-10</text>
<text class="tk" text-anchor="end" x="142.8" y="1631.25">-12</text>
<text class="tk" text-anchor="end" x="142.8" y="1738.02">-14</text>
<text class="tk" text-anchor="end" x="142.8" y="1844.8">-16</text>
<text class="tk" text-anchor="middle" x="177.8" y="1891.5">0</text>
<text class="tk" text-anchor="middle" x="346.9" y="1891.5">200</text>
<text class="tk" text-anchor="middle" x="516" y="1891.5">400</text>
<text class="tk" text-anchor="middle" x="685.1" y="1891.5">600</text>
<text class="tk" text-anchor="middle" x="854.2" y="1891.5">800</text>
<text class="tk" text-anchor="middle" x="1023.3" y="1891.5">1000</text>
<path d="M675.9 1559 h20.6 m15.1 0 h16.3" stroke="#000" stroke-width="5" fill="none"/>
<text class="lg" transform="translate(745.7 1565.2) scale(1.03 1)">ε = 0 meV</text>
<path d="M675.9 1605.5 H730.4" stroke="#C00000" stroke-width="5" fill="none"/>
<text class="lg" transform="translate(745.7 1615.3) scale(1.03 1)">ε = 2 meV</text>
<path d="M675.9 1653.4 H730.4" stroke="#0070C0" stroke-width="5" fill="none"/>
<text class="lg" transform="translate(745.7 1665.2) scale(1.03 1)">ε = 4 meV</text>
<path d="M675.9 1701.4 H730.4" stroke="#548235" stroke-width="5" fill="none"/>
<text class="lg" transform="translate(745.7 1713.1) scale(1.03 1)">ε = 6 meV</text>
<path d="M675.9 1750 H730.4" stroke="#7030A0" stroke-width="5" fill="none"/>
<text class="lg" transform="translate(745.7 1758.8) scale(1.03 1)">ε = 8 meV</text>
<text class="yt" transform="translate(79.9 1517.4) rotate(-90)"><tspan x="-3" y="-2.4" font-size="58" textLength="35.88" lengthAdjust="spacingAndGlyphs">α</tspan><tspan x="38.6" y="-7.9" font-size="60" textLength="16.98" lengthAdjust="spacingAndGlyphs">(</tspan><tspan x="49.2" y="0" font-size="60" textLength="70.09" lengthAdjust="spacingAndGlyphs">10</tspan><tspan x="121.5" y="-21.7" font-size="39">-6</tspan><tspan x="155.5" y="-4.8" font-size="59" textLength="30.7" lengthAdjust="spacingAndGlyphs">K</tspan><tspan x="187.5" y="-24.9" font-size="39">-1</tspan><tspan x="223.8" y="-7.9" font-size="60" textLength="16.98" lengthAdjust="spacingAndGlyphs">)</tspan></text>
</g>
<g id="p4">
<path d="M1179.7 1005.37 h7.4 M1179.7 1026.73 h7.4 M1179.7 1048.1 h7.4 M1179.7 1069.47 h7.4 M1179.7 1090.84 h9.6 M1179.7 1112.2 h7.4 M1179.7 1133.57 h7.4 M1179.7 1154.94 h7.4 M1179.7 1176.31 h7.4 M1179.7 1197.67 h9.6 M1179.7 1219.04 h7.4 M1179.7 1240.41 h7.4 M1179.7 1261.78 h7.4 M1179.7 1283.14 h7.4 M1179.7 1304.51 h9.6 M1179.7 1325.88 h7.4 M1179.7 1347.25 h7.4 M1179.7 1368.62 h7.4 M1179.7 1389.98 h7.4 M1179.7 1411.35 h9.6 M1179.7 1432.72 h7.4 M1179.7 1454.09 h7.4 M1179.7 1475.45 h7.4 M1179.7 1496.82 h7.4 M1179.7 1518.19 h9.6 M1179.7 1539.56 h7.4 M1179.7 1560.92 h7.4 M1179.7 1582.29 h7.4 M1179.7 1603.66 h7.4 M1179.7 1625.03 h9.6 M1179.7 1646.39 h7.4 M1179.7 1667.76 h7.4 M1179.7 1689.13 h7.4 M1179.7 1710.5 h7.4 M1179.7 1731.86 h9.6 M1179.7 1753.23 h7.4 M1179.7 1774.6 h7.4 M1179.7 1795.97 h7.4 M1179.7 1817.33 h7.4 M1207.9 1838.7 v-9 M1236.09 1838.7 v-9 M1264.29 1838.7 v-9 M1292.49 1838.7 v-9 M1320.68 1838.7 v-11.2 M1348.88 1838.7 v-9 M1377.08 1838.7 v-9 M1405.27 1838.7 v-9 M1433.47 1838.7 v-9 M1461.67 1838.7 v-11.2 M1489.86 1838.7 v-9 M1518.06 1838.7 v-9 M1546.26 1838.7 v-9 M1574.45 1838.7 v-9 M1602.65 1838.7 v-11.2 M1630.85 1838.7 v-9 M1659.04 1838.7 v-9 M1687.24 1838.7 v-9 M1715.44 1838.7 v-9 M1743.63 1838.7 v-11.2 M1771.83 1838.7 v-9 M1800.03 1838.7 v-9 M1828.22 1838.7 v-9 M1856.42 1838.7 v-9 M1884.62 1838.7 v-11.2 M1912.81 1838.7 v-9 M1941.01 1838.7 v-9 M1969.21 1838.7 v-9 M1997.4 1838.7 v-9" stroke="#111" stroke-width="2.1" fill="none"/>
<rect x="1179.7" y="984" width="845.9" height="854.7" fill="none" stroke="#000" stroke-width="4.1"/>
<g fill="none" stroke-width="5" stroke-linejoin="round">
<path d="M1248.37 1538.83 L1251.29 1538.01 L1254.21 1537.18 L1257.13 1536.36 L1260.05 1535.54 L1262.97 1534.71 L1265.89 1533.89 M1280.81 1529.67 L1283.73 1528.84 L1286.65 1528.02 L1289.57 1527.19 L1292.49 1526.37 L1295.41 1525.54 L1298.33 1524.71 M1313.25 1520.49 L1316.17 1519.66 L1319.09 1518.84 L1322.01 1518.01 L1324.93 1517.18 L1327.84 1516.35 L1330.76 1515.53 M1345.68 1511.3 L1348.6 1510.47 L1351.52 1509.64 L1354.44 1508.81 L1357.35 1507.98 L1360.27 1507.16 L1363.19 1506.33 M1378.11 1502.09 L1381.02 1501.26 L1383.94 1500.43 L1386.86 1499.6 L1389.78 1498.77 L1392.69 1497.94 L1395.61 1497.11 M1410.52 1492.87 L1413.44 1492.04 L1416.36 1491.21 L1419.28 1490.38 L1422.19 1489.55 L1425.11 1488.72 L1428.03 1487.89 M1442.94 1483.64 L1445.85 1482.8 L1448.77 1481.97 L1451.69 1481.14 L1454.6 1480.31 L1457.52 1479.48 L1460.44 1478.64 M1475.34 1474.39 L1478.26 1473.55 L1481.17 1472.72 L1484.09 1471.89 L1487.01 1471.05 L1489.92 1470.22 L1492.84 1469.39 M1507.74 1465.13 L1510.66 1464.29 L1513.57 1463.46 L1516.49 1462.62 L1519.4 1461.79 L1522.32 1460.95 L1525.23 1460.12 M1540.13 1455.85 L1543.05 1455.01 L1545.96 1454.18 L1548.88 1453.34 L1551.79 1452.51 L1554.71 1451.67 L1557.62 1450.83 M1572.52 1446.56 L1575.43 1445.72 L1578.35 1444.89 L1581.26 1444.05 L1584.18 1443.21 L1587.09 1442.37 L1590 1441.54 M1604.9 1437.26 L1607.81 1436.42 L1610.73 1435.58 L1613.64 1434.74 L1616.55 1433.9 L1619.47 1433.06 L1622.38 1432.23 M1637.27 1427.94 L1640.18 1427.1 L1643.1 1426.26 L1646.01 1425.42 L1648.92 1424.58 L1651.84 1423.74 L1654.75 1422.9 M1669.64 1418.61 L1672.55 1417.77 L1675.46 1416.92 L1678.38 1416.08 L1681.29 1415.24 L1684.2 1414.4 L1687.11 1413.56 M1702 1409.26 L1704.91 1408.42 L1707.82 1407.58 L1710.73 1406.74 L1713.65 1405.89 L1716.56 1405.05 L1719.47 1404.21 M1734.35 1399.9 L1737.26 1399.06 L1740.17 1398.22 L1743.09 1397.37 L1746 1396.53 L1748.91 1395.69 L1751.82 1394.84 M1766.7 1390.53 L1769.61 1389.68 L1772.52 1388.84 L1775.43 1388 L1778.34 1387.15 L1781.25 1386.31 L1784.16 1385.46 M1799.04 1381.14 L1801.95 1380.3 L1804.86 1379.45 L1807.77 1378.61 L1810.68 1377.76 L1813.59 1376.91 L1816.5 1376.07 M1831.37 1371.74 L1834.28 1370.89 L1837.19 1370.05 L1840.1 1369.2 L1843.01 1368.35 L1845.92 1367.51 L1848.83 1366.66 M1863.7 1362.33 L1866.61 1361.48 L1869.52 1360.63 L1872.43 1359.78 L1875.33 1358.93 L1878.24 1358.09 L1881.15 1357.24 M1896.02 1352.9 L1898.93 1352.05 L1901.84 1351.2 L1904.74 1350.35 L1907.65 1349.5 L1910.56 1348.65 L1913.47 1347.8 M1928.33 1343.46 L1931.24 1342.61 L1934.15 1341.76 L1937.06 1340.91 L1939.96 1340.06 L1942.87 1339.2 L1945.78 1338.35 M1960.64 1334 L1963.55 1333.15 L1966.46 1332.3 L1969.36 1331.45 L1972.27 1330.59 L1975.18 1329.74 L1978.08 1328.89 M1992.94 1324.53 L1995.85 1323.68 L1998.75 1322.83 L2001.66 1321.97 L2004.57 1321.12 L2007.47 1320.27 L2010.38 1319.41 M2025.24 1315.05 L2025.38 1315.01 L2025.52 1314.97 L2025.67 1314.92 L2025.81 1314.88 L2025.96 1314.84 L2026.1 1314.8" stroke="#000000"/>
<path d="M1246.67 1066 L1253.23 1075.44 L1259.79 1084.73 L1266.35 1093.86 L1272.92 1102.84 L1279.48 1111.66 L1286.04 1120.33 L1292.6 1128.84 L1299.17 1137.2 L1305.73 1145.4 L1312.29 1153.45 L1318.85 1161.34 L1325.42 1169.07 L1331.98 1176.65 L1338.54 1184.08 L1345.1 1191.35 L1351.67 1198.46 L1358.23 1205.42 L1364.79 1212.22 L1371.35 1218.87 L1377.92 1225.37 L1384.48 1231.7 L1391.04 1237.89 L1397.6 1243.91 L1404.17 1249.79 L1410.73 1255.5 L1417.29 1261.07 L1423.85 1266.47 L1430.42 1271.72 L1436.98 1276.82 L1443.54 1281.76 L1450.1 1286.55 L1456.67 1291.18 L1463.23 1295.65 L1469.79 1299.97 L1476.35 1304.14 L1482.92 1308.15 L1489.48 1312 L1496.04 1315.7 L1502.6 1319.25 L1509.17 1322.63 L1515.73 1325.87 L1522.29 1328.95 L1528.85 1331.87 L1535.42 1334.64 L1541.98 1337.25 L1548.54 1339.71 L1555.1 1342.01 L1561.67 1344.16 L1568.23 1346.15 L1574.79 1347.98 L1581.35 1349.66 L1587.92 1351.19 L1594.48 1352.56 L1601.04 1353.78 L1607.6 1354.84 L1614.16 1355.74 L1620.73 1356.49 L1627.29 1357.08 L1633.85 1357.52 L1640.41 1357.81 L1646.98 1357.94 L1653.54 1357.91 L1660.1 1357.73 L1666.66 1357.39 L1673.23 1356.9 L1679.79 1356.25 L1686.35 1355.45 L1692.91 1354.49 L1699.48 1353.38 L1706.04 1352.11 L1712.6 1350.68 L1719.16 1349.11 L1725.73 1347.37 L1732.29 1345.48 L1738.85 1343.44 L1745.41 1341.24 L1751.98 1338.88 L1758.54 1336.37 L1765.1 1333.71 L1771.66 1330.88 L1778.23 1327.91 L1784.79 1324.78 L1791.35 1321.49 L1797.91 1318.05 L1804.48 1314.45 L1811.04 1310.7 L1817.6 1306.79 L1824.16 1302.73 L1830.73 1298.51 L1837.29 1294.14 L1843.85 1289.61 L1850.41 1284.92 L1856.98 1280.09 L1863.54 1275.09 L1870.1 1269.94 L1876.66 1264.64 L1883.23 1259.18 L1889.79 1253.56 L1896.35 1247.79 L1902.91 1241.87 L1909.48 1235.78 L1916.04 1229.55 L1922.6 1223.16 L1929.16 1216.61 L1935.73 1209.91 L1942.29 1203.05 L1948.85 1196.04 L1955.41 1188.87 L1961.98 1181.55 L1968.54 1174.07 L1975.1 1166.44 L1981.66 1158.65 L1988.23 1150.7 L1994.79 1142.61 L2001.35 1134.35 L2007.91 1125.94 L2014.48 1117.38 L2021.04 1108.66 L2027.6 1099.78" stroke="#C00000"/>
<path d="M1246.67 1205.57 L1253.23 1204.36 L1259.79 1203.18 L1266.35 1202.03 L1272.92 1200.9 L1279.48 1199.8 L1286.04 1198.72 L1292.6 1197.67 L1299.17 1196.65 L1305.73 1195.65 L1312.29 1194.68 L1318.85 1193.74 L1325.42 1192.82 L1331.98 1191.92 L1338.54 1191.06 L1345.1 1190.22 L1351.67 1189.4 L1358.23 1188.61 L1364.79 1187.85 L1371.35 1187.12 L1377.92 1186.41 L1384.48 1185.72 L1391.04 1185.06 L1397.6 1184.43 L1404.17 1183.83 L1410.73 1183.25 L1417.29 1182.69 L1423.85 1182.17 L1430.42 1181.67 L1436.98 1181.19 L1443.54 1180.74 L1450.1 1180.32 L1456.67 1179.92 L1463.23 1179.55 L1469.79 1179.21 L1476.35 1178.89 L1482.92 1178.6 L1489.48 1178.33 L1496.04 1178.09 L1502.6 1177.88 L1509.17 1177.69 L1515.73 1177.53 L1522.29 1177.39 L1528.85 1177.28 L1535.42 1177.2 L1541.98 1177.14 L1548.54 1177.11 L1555.1 1177.11 L1561.67 1177.13 L1568.23 1177.18 L1574.79 1177.25 L1581.35 1177.35 L1587.92 1177.48 L1594.48 1177.63 L1601.04 1177.8 L1607.6 1178.01 L1614.16 1178.24 L1620.73 1178.5 L1627.29 1178.78 L1633.85 1179.09 L1640.41 1179.42 L1646.98 1179.78 L1653.54 1180.17 L1660.1 1180.58 L1666.66 1181.02 L1673.23 1181.49 L1679.79 1181.98 L1686.35 1182.49 L1692.91 1183.04 L1699.48 1183.61 L1706.04 1184.2 L1712.6 1184.82 L1719.16 1185.47 L1725.73 1186.15 L1732.29 1186.85 L1738.85 1187.57 L1745.41 1188.33 L1751.98 1189.1 L1758.54 1189.91 L1765.1 1190.74 L1771.66 1191.6 L1778.23 1192.48 L1784.79 1193.39 L1791.35 1194.32 L1797.91 1195.29 L1804.48 1196.27 L1811.04 1197.29 L1817.6 1198.33 L1824.16 1199.39 L1830.73 1200.48 L1837.29 1201.6 L1843.85 1202.75 L1850.41 1203.92 L1856.98 1205.11 L1863.54 1206.34 L1870.1 1207.58 L1876.66 1208.86 L1883.23 1210.16 L1889.79 1211.49 L1896.35 1212.84 L1902.91 1214.22 L1909.48 1215.62 L1916.04 1217.06 L1922.6 1218.51 L1929.16 1220 L1935.73 1221.51 L1942.29 1223.04 L1948.85 1224.6 L1955.41 1226.19 L1961.98 1227.81 L1968.54 1229.45 L1975.1 1231.11 L1981.66 1232.81 L1988.23 1234.53 L1994.79 1236.27 L2001.35 1238.04 L2007.91 1239.84 L2014.48 1241.66 L2021.04 1243.51 L2027.6 1245.39" stroke="#0070C0"/>
<path d="M1246.67 1013.66 L1253.23 1019.9 L1259.79 1026.05 L1266.35 1032.09 L1272.92 1038.02 L1279.48 1043.85 L1286.04 1049.58 L1292.6 1055.21 L1299.17 1060.74 L1305.73 1066.16 L1312.29 1071.47 L1318.85 1076.69 L1325.42 1081.8 L1331.98 1086.81 L1338.54 1091.71 L1345.1 1096.51 L1351.67 1101.21 L1358.23 1105.81 L1364.79 1110.3 L1371.35 1114.69 L1377.92 1118.97 L1384.48 1123.16 L1391.04 1127.24 L1397.6 1131.21 L1404.17 1135.09 L1410.73 1138.86 L1417.29 1142.52 L1423.85 1146.09 L1430.42 1149.55 L1436.98 1152.9 L1443.54 1156.16 L1450.1 1159.31 L1456.67 1162.36 L1463.23 1165.3 L1469.79 1168.14 L1476.35 1170.88 L1482.92 1173.52 L1489.48 1176.05 L1496.04 1178.48 L1502.6 1180.81 L1509.17 1183.03 L1515.73 1185.15 L1522.29 1187.17 L1528.85 1189.08 L1535.42 1190.89 L1541.98 1192.6 L1548.54 1194.2 L1555.1 1195.7 L1561.67 1197.1 L1568.23 1198.39 L1574.79 1199.59 L1581.35 1200.67 L1587.92 1201.66 L1594.48 1202.54 L1601.04 1203.32 L1607.6 1203.99 L1614.16 1204.57 L1620.73 1205.04 L1627.29 1205.4 L1633.85 1205.67 L1640.41 1205.83 L1646.98 1205.88 L1653.54 1205.84 L1660.1 1205.69 L1666.66 1205.43 L1673.23 1205.08 L1679.79 1204.62 L1686.35 1204.06 L1692.91 1203.39 L1699.48 1202.62 L1706.04 1201.75 L1712.6 1200.78 L1719.16 1199.7 L1725.73 1198.52 L1732.29 1197.23 L1738.85 1195.85 L1745.41 1194.36 L1751.98 1192.76 L1758.54 1191.07 L1765.1 1189.27 L1771.66 1187.36 L1778.23 1185.36 L1784.79 1183.25 L1791.35 1181.04 L1797.91 1178.72 L1804.48 1176.3 L1811.04 1173.78 L1817.6 1171.15 L1824.16 1168.43 L1830.73 1165.59 L1837.29 1162.66 L1843.85 1159.62 L1850.41 1156.48 L1856.98 1153.24 L1863.54 1149.89 L1870.1 1146.44 L1876.66 1142.89 L1883.23 1139.23 L1889.79 1135.47 L1896.35 1131.61 L1902.91 1127.64 L1909.48 1123.57 L1916.04 1119.4 L1922.6 1115.12 L1929.16 1110.75 L1935.73 1106.26 L1942.29 1101.68 L1948.85 1096.99 L1955.41 1092.2 L1961.98 1087.31 L1968.54 1082.31 L1975.1 1077.21 L1981.66 1072 L1988.23 1066.7 L1994.79 1061.29 L2001.35 1055.77 L2007.91 1050.16 L2014.48 1044.44 L2021.04 1038.61 L2027.6 1032.69" stroke="#548235"/>
<path d="M1246.67 993.04 L1253.23 996.16 L1259.79 999.22 L1266.35 1002.24 L1272.92 1005.2 L1279.48 1008.11 L1286.04 1010.97 L1292.6 1013.77 L1299.17 1016.53 L1305.73 1019.23 L1312.29 1021.89 L1318.85 1024.49 L1325.42 1027.04 L1331.98 1029.54 L1338.54 1031.98 L1345.1 1034.38 L1351.67 1036.72 L1358.23 1039.01 L1364.79 1041.25 L1371.35 1043.44 L1377.92 1045.58 L1384.48 1047.67 L1391.04 1049.7 L1397.6 1051.69 L1404.17 1053.62 L1410.73 1055.5 L1417.29 1057.33 L1423.85 1059.1 L1430.42 1060.83 L1436.98 1062.5 L1443.54 1064.13 L1450.1 1065.7 L1456.67 1067.22 L1463.23 1068.69 L1469.79 1070.1 L1476.35 1071.47 L1482.92 1072.78 L1489.48 1074.04 L1496.04 1075.25 L1502.6 1076.41 L1509.17 1077.52 L1515.73 1078.58 L1522.29 1079.58 L1528.85 1080.53 L1535.42 1081.44 L1541.98 1082.29 L1548.54 1083.09 L1555.1 1083.83 L1561.67 1084.53 L1568.23 1085.17 L1574.79 1085.76 L1581.35 1086.31 L1587.92 1086.8 L1594.48 1087.23 L1601.04 1087.62 L1607.6 1087.96 L1614.16 1088.24 L1620.73 1088.47 L1627.29 1088.65 L1633.85 1088.78 L1640.41 1088.86 L1646.98 1088.88 L1653.54 1088.86 L1660.1 1088.78 L1666.66 1088.65 L1673.23 1088.47 L1679.79 1088.24 L1686.35 1087.96 L1692.91 1087.62 L1699.48 1087.24 L1706.04 1086.8 L1712.6 1086.31 L1719.16 1085.77 L1725.73 1085.18 L1732.29 1084.54 L1738.85 1083.84 L1745.41 1083.1 L1751.98 1082.3 L1758.54 1081.45 L1765.1 1080.55 L1771.66 1079.59 L1778.23 1078.59 L1784.79 1077.53 L1791.35 1076.43 L1797.91 1075.27 L1804.48 1074.06 L1811.04 1072.8 L1817.6 1071.48 L1824.16 1070.12 L1830.73 1068.7 L1837.29 1067.24 L1843.85 1065.72 L1850.41 1064.15 L1856.98 1062.52 L1863.54 1060.85 L1870.1 1059.13 L1876.66 1057.35 L1883.23 1055.52 L1889.79 1053.64 L1896.35 1051.71 L1902.91 1049.73 L1909.48 1047.69 L1916.04 1045.61 L1922.6 1043.47 L1929.16 1041.28 L1935.73 1039.04 L1942.29 1036.75 L1948.85 1034.41 L1955.41 1032.01 L1961.98 1029.57 L1968.54 1027.07 L1975.1 1024.52 L1981.66 1021.92 L1988.23 1019.27 L1994.79 1016.56 L2001.35 1013.81 L2007.91 1011 L2014.48 1008.14 L2021.04 1005.24 L2027.6 1002.27" stroke="#7030A0"/>
</g>
<text class="tk" text-anchor="end" x="1144.2" y="994.8">0</text>
<text class="tk" text-anchor="end" x="1144.2" y="1101.64">-2</text>
<text class="tk" text-anchor="end" x="1144.2" y="1208.47">-4</text>
<text class="tk" text-anchor="end" x="1144.2" y="1315.31">-6</text>
<text class="tk" text-anchor="end" x="1144.2" y="1422.15">-8</text>
<text class="tk" text-anchor="end" x="1144.2" y="1528.99">-10</text>
<text class="tk" text-anchor="end" x="1144.2" y="1635.83">-12</text>
<text class="tk" text-anchor="end" x="1144.2" y="1742.66">-14</text>
<text class="tk" text-anchor="end" x="1144.2" y="1849.5">-16</text>
<text class="tk" text-anchor="middle" x="1179.2" y="1896.2">0</text>
<text class="tk" text-anchor="middle" x="1320.18" y="1896.2">100</text>
<text class="tk" text-anchor="middle" x="1461.17" y="1896.2">200</text>
<text class="tk" text-anchor="middle" x="1602.15" y="1896.2">300</text>
<text class="tk" text-anchor="middle" x="1743.13" y="1896.2">400</text>
<text class="tk" text-anchor="middle" x="1884.12" y="1896.2">500</text>
<text class="tk" text-anchor="middle" x="2025.1" y="1896.2">600</text>
<path d="M1679.4 1573 h20.6 m15.1 0 h16.3" stroke="#000" stroke-width="5" fill="none"/>
<text class="lg" transform="translate(1749.2 1579.2) scale(1.03 1)">ε = 0 meV</text>
<path d="M1679.4 1619.5 H1733.9" stroke="#C00000" stroke-width="5" fill="none"/>
<text class="lg" transform="translate(1749.2 1629.3) scale(1.03 1)">ε = 2 meV</text>
<path d="M1679.4 1667.4 H1733.9" stroke="#0070C0" stroke-width="5" fill="none"/>
<text class="lg" transform="translate(1749.2 1679.2) scale(1.03 1)">ε = 4 meV</text>
<path d="M1679.4 1715.4 H1733.9" stroke="#548235" stroke-width="5" fill="none"/>
<text class="lg" transform="translate(1749.2 1727.1) scale(1.03 1)">ε = 6 meV</text>
<path d="M1679.4 1764 H1733.9" stroke="#7030A0" stroke-width="5" fill="none"/>
<text class="lg" transform="translate(1749.2 1772.8) scale(1.03 1)">ε = 8 meV</text>
<text class="yt" transform="translate(1096 1504.4) rotate(-90)"><tspan x="-3" y="-2.4" font-size="58" textLength="35.88" lengthAdjust="spacingAndGlyphs">α</tspan><tspan x="38.6" y="-7.9" font-size="60" textLength="16.98" lengthAdjust="spacingAndGlyphs">(</tspan><tspan x="49.2" y="0" font-size="60" textLength="70.09" lengthAdjust="spacingAndGlyphs">10</tspan><tspan x="121.5" y="-21.7" font-size="39">-6</tspan><tspan x="155.5" y="-4.8" font-size="59" textLength="30.7" lengthAdjust="spacingAndGlyphs">K</tspan><tspan x="187.5" y="-24.9" font-size="39">-1</tspan><tspan x="223.8" y="-7.9" font-size="60" textLength="16.98" lengthAdjust="spacingAndGlyphs">)</tspan></text>
</g>
<text class="ttl" font-size="58" transform="translate(511 116.7) scale(0.945 1)">Graphene</text>
<text class="ttl" font-size="49" x="1418" y="123" textLength="300.5" lengthAdjust="spacingAndGlyphs">Phagraphene</text>
<text class="ttl" font-size="58.3" transform="translate(549.7 1058.5) scale(0.943 1)">C<tspan font-size="37" dy="12">3</tspan><tspan dy="-12">N</tspan></text>
<text class="ttl" font-size="51.5" transform="translate(1574.5 1042.5) scale(0.814 1)">BC<tspan font-size="32" dy="12.3">3</tspan></text>
<text class="xt" font-size="56.8" y="1947.3"><tspan x="389.7" textLength="345.7" lengthAdjust="spacingAndGlyphs">Temperature</tspan> <tspan x="752.3" textLength="73.6" lengthAdjust="spacingAndGlyphs">(K)</tspan></text>
<text class="xt" font-size="56.8" y="1949"><tspan x="1395.3" textLength="345.7" lengthAdjust="spacingAndGlyphs">Temperature</tspan> <tspan x="1757.1" textLength="73.6" lengthAdjust="spacingAndGlyphs">(K)</tspan></text>
</svg></body></html>
